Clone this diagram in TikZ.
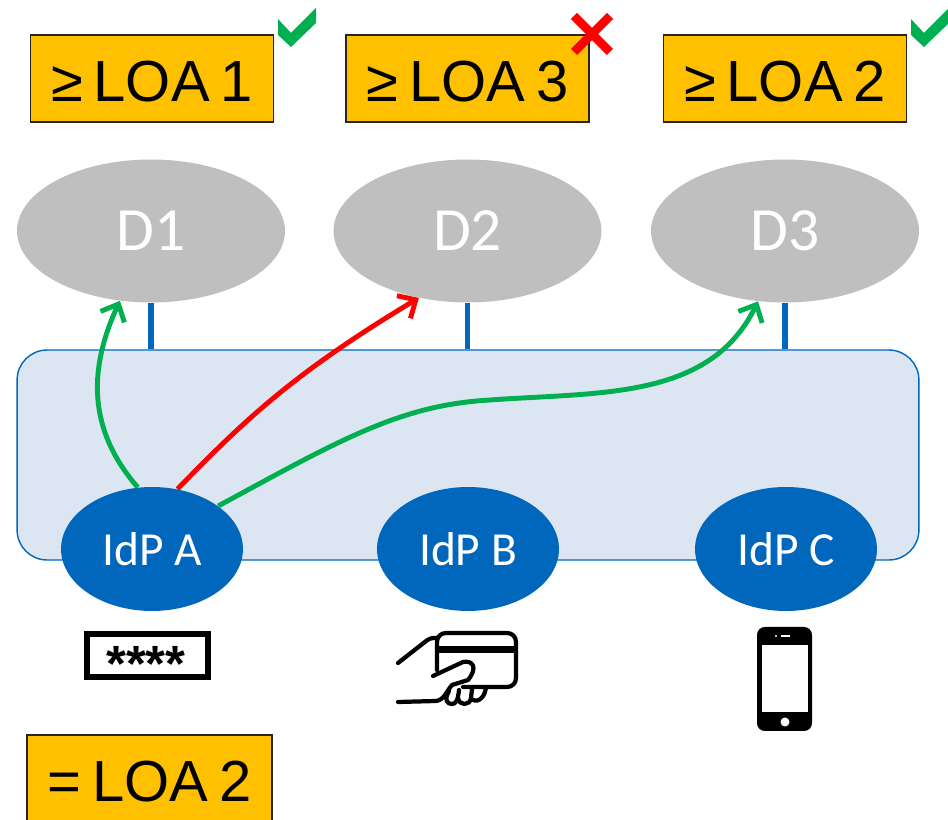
\documentclass[tikz,border=0pt]{standalone}
\usepackage{fontspec}
\setmainfont[WordSpace=0.68]{Liberation Sans}
\newfontfamily\calibrifont{Carlito}
\usetikzlibrary{shapes.geometric,arrows.meta}
\definecolor{loaorange}{HTML}{FFC000}
\definecolor{domgray}{HTML}{BFBFBF}
\definecolor{idpblue}{HTML}{0067BD}
\definecolor{fedfill}{HTML}{DCE6F2}
\definecolor{okgreen}{HTML}{00B050}
\begin{document}
\begin{tikzpicture}[x=0.02cm,y=-0.02cm,
    loabox/.style={draw=black!85,line width=0.9pt,fill=loaorange,minimum width=4.86cm,minimum height=1.74cm,inner sep=0pt,text height=26pt,text depth=0pt,font=\fontsize{33}{33}\selectfont},
    dom/.style={ellipse,fill=domgray,text=white,minimum width=5.36cm,minimum height=2.86cm,inner sep=0pt,font=\calibrifont\fontsize{35}{35}\selectfont},
    idp/.style={ellipse,fill=idpblue,text=white,minimum width=3.64cm,minimum height=2.48cm,inner sep=0pt,font=\calibrifont\fontsize{27}{27}\selectfont},
    link/.style={line width=2.8pt,->,>={Straight Barb[length=8pt,width=15pt]}},
    stem/.style={line width=3pt,draw=idpblue},
    icon/.style={line width=2.4pt,line cap=round,line join=round}]
    \useasboundingbox (0,0) rectangle (948,820);
    \node[draw=idpblue,line width=0.8pt,fill=fedfill,rounded corners=0.6cm,minimum width=18.04cm,minimum height=4.2cm] (fed) at (468,455) {};
    \node[dom] (D1) at (151,231) {D1};
    \node[dom] (D2) at (467.5,231) {D2};
    \node[dom] (D3) at (785,231) {D3};
    \draw[stem] (D1.south) -- (D1.south |- fed.north);
    \draw[stem] (D2.south) -- (D2.south |- fed.north);
    \draw[stem] (D3.south) -- (D3.south |- fed.north);
    \node[idp] (A) at (152,549) {IdP A};
    \node[idp] (B) at (468,549) {IdP B};
    \node[idp] (C) at (786,549) {IdP C};
    \node[loabox] (L1) at (152,78.5) {≥ LOA 1};
    \node[loabox] (L3) at (467.5,78.5) {≥ LOA 3};
    \node[loabox] (L2) at (785,78.5) {≥ LOA 2};
    \node[loabox,minimum width=4.9cm] (L4) at (149.5,778.5) {= LOA 2};
    \draw[link,draw=okgreen] (A.103) .. controls (88,430) and (88,370) .. (D1.246);
    \draw[link,draw=red] (A.67) .. controls (240,425) and (290,375) .. (D2.234);
    \draw[link,draw=okgreen] (A.33) .. controls (340,440) and (400,405) .. (490,400) .. controls (600,392) and (710,400) .. (D3.249);
    \fill[okgreen] (278,19) -- (291,33) -- (316,8) -- (316,23) -- (291,47) -- (278,35) -- cycle;
    \fill[okgreen] (911,19) -- (924,33) -- (949,8) -- (949,23) -- (924,47) -- (911,35) -- cycle;
    \draw[red,line width=5pt] (574,16) -- (610,52) (610,16) -- (574,52);
    \draw[line width=3.4pt] (87,634) rectangle (208,677);
    \node[inner sep=0pt,font=\bfseries\fontsize{29}{29}\selectfont] (stars) at (146,664) {****};
    \draw[icon] (437,670) -- (437,645) [rounded corners=5pt] -- (437,633) -- (516,633) -- (516,687) -- (463,687);
    \fill (437,646) rectangle (516,653);
    \draw[icon,rounded corners=2pt] (398,663) -- (430,638) -- (437,638);
    \draw[icon] (433,676) -- (463,662) .. controls (473,660) and (478,668) .. (468,680) -- (452,685) .. controls (446,692) and (444,700) .. (436,701) -- (398,702);
    \draw[icon] (449,691) .. controls (444,700) and (447,704) .. (452,704) .. controls (456,704) and (458,700) .. (459,690);
    \draw[icon] (458,698) .. controls (459,706) and (470,706) .. (471,698) -- (472,689);
    \draw[icon] (471,699) .. controls (476,703) and (484,700) .. (486,688);
    \fill[rounded corners=4.5pt] (757,627) rectangle (812,731);
    \fill[white] (762,645) rectangle (808,712);
    \fill[white] (785,722) circle (4.5);
    \fill[white] (781,635) rectangle (790,637);
    \fill[white] (776,636) circle (1.2);
\end{tikzpicture}
\end{document}
